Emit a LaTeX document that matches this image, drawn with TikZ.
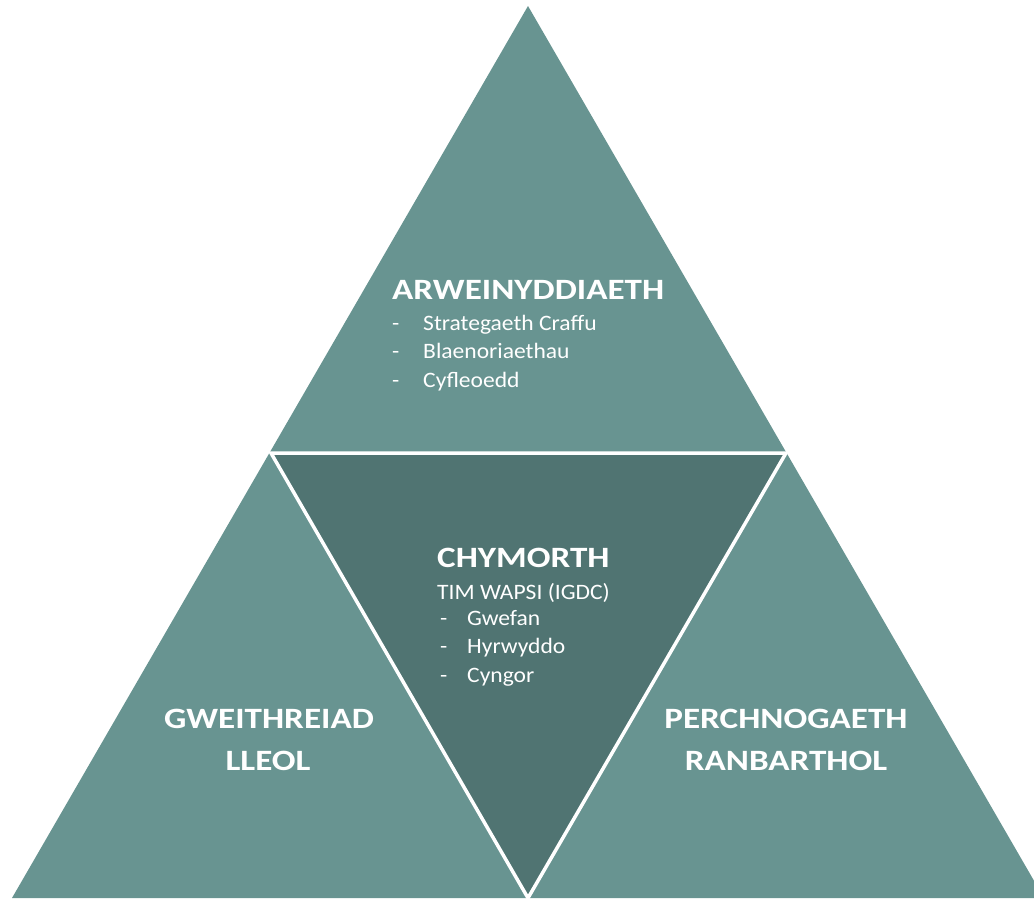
\documentclass[tikz,border=0pt]{standalone}
\usepackage{fontspec}
\setmainfont{Carlito}
\newfontfamily\headfont{Carlito}[FakeStretch=1.19]
\newfontfamily\bodyfont{Carlito}[FakeStretch=1.07]
\definecolor{outerteal}{HTML}{689491}
\definecolor{innerteal}{HTML}{507472}
\begin{document}
\begin{tikzpicture}[x=1pt,y=-1pt,
  title/.style={text=white,font=\headfont\fontsize{29.5}{32}\selectfont\bfseries,inner sep=0pt},
  body/.style={text=white,font=\bodyfont\fontsize{22}{26}\selectfont,inner sep=0pt,anchor=base west},
  corner/.style={text=white,font=\headfont\fontsize{29.5}{40}\selectfont\bfseries,align=center,inner sep=0pt}]
\useasboundingbox (0,0) rectangle (1034,898);
\clip (0,0) rectangle (1034,898);
\coordinate (apex) at (528,6);
\coordinate (bl) at (12,898);
\coordinate (br) at (1044,898);
\coordinate (il) at (271,453);
\coordinate (ir) at (786,453);
\coordinate (ib) at (528,898);
\fill[outerteal] (apex) -- (br) -- (bl) -- cycle;
\filldraw[fill=innerteal,draw=white,line width=3.5pt,line join=miter] (il) -- (ir) -- (ib) -- cycle;
% top
\node[title,anchor=base west] (t1) at (392,299) {ARWEINYDDIAETH};
\node[body] (d1) at (392,330) {-};
\node[body] (s1) at (423,330) {Strategaeth Craffu};
\node[body] (d2) at (392,358) {-};
\node[body] (s2) at (423,358) {Blaenoriaethau};
\node[body] (d3) at (392,387) {-};
\node[body] (s3) at (423,387) {Cyfleoedd};
% middle
\node[title,anchor=base west] (t2) at (437,567) {CHYMORTH};
\node[body] (m0) at (437,599) {TIM WAPSI (IGDC)};
\node[body] (e1) at (440,625) {-};
\node[body] (m1) at (467,625) {Gwefan};
\node[body] (e2) at (440,653) {-};
\node[body] (m2) at (467,653) {Hyrwyddo};
\node[body] (e3) at (440,682) {-};
\node[body] (m3) at (467,682) {Cyngor};
% corners
\node[corner,anchor=base] (g1) at (269,728) {GWEITHREIAD};
\node[corner,anchor=base] (g2) at (268,770) {LLEOL};
\node[corner,anchor=base] (p1) at (786,728) {PERCHNOGAETH};
\node[corner,anchor=base] (p2) at (786,770) {RANBARTHOL};
\end{tikzpicture}
\end{document}
